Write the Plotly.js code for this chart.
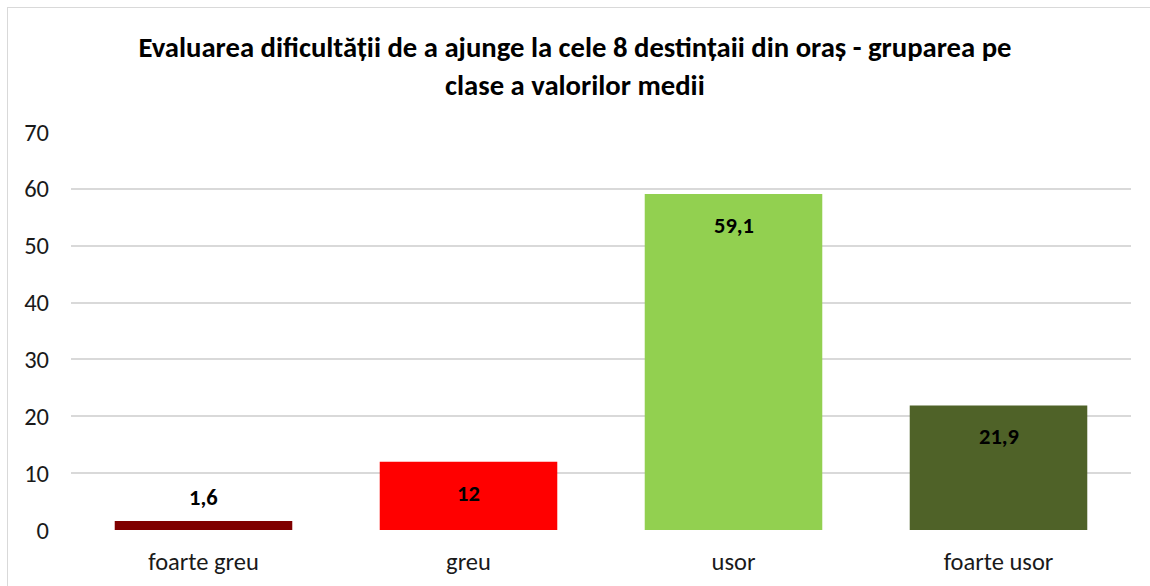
<!DOCTYPE html>
<html>
<head>
<meta charset="utf-8">
<script src="https://cdn.plot.ly/plotly-3.0.1.min.js"></script>
<style>
  html, body { margin: 0; padding: 0; background: #fff; overflow: hidden; }
  #chart { width: 1150px; height: 586px; position: absolute; left: 0; top: 0; }
  #frame { position: absolute; left: 7px; top: 7px; width: 1200px; height: 700px;
           border-left: 1px solid #d9d9d9; border-top: 1px solid #d9d9d9; pointer-events: none; }
</style>
</head>
<body>
<div id="chart"></div>
<div id="frame"></div>
<script>
const titleLine1 = "Evaluarea dificultății de a ajunge la cele 8 destințaii din oraș - gruparea pe";
const titleLine2 = "clase a valorilor medii";
const categories = ["foarte greu", "greu", "usor", "foarte usor"];
const values = [1.6, 12, 59.1, 21.9];
const barColors = ["#7f0000", "#ff0000", "#92d050", "#4f6228"];
const yTicks = [0, 10, 20, 30, 40, 50, 60, 70];

const FONT = "Carlito, Lato, 'Open Sans', sans-serif";

const fmt = v => String(v).replace(".", ",");

const annotations = values.map((v, i) => {
  const inside = v > 5;
  return {
    x: categories[i], y: v, xref: "x", yref: "y",
    text: "<b>" + fmt(v) + "</b>",
    showarrow: false,
    yanchor: inside ? "top" : "bottom",
    yshift: inside ? -16 : 8,
    font: { family: FONT, size: 22.5, color: "#000" }
  };
});
annotations.push({
  xref: "paper", yref: "paper", x: (575 - 71) / 1060, y: (530 - 85) / 398,
  xanchor: "center", yanchor: "middle", showarrow: false,
  text: "<b>" + titleLine2 + "</b>",
  font: { family: FONT, size: 28.7, color: "#000" }
});

const trace = {
  type: "bar",
  x: categories,
  y: values,
  marker: { color: barColors },
  hoverinfo: "x+y"
};

const layout = {
  width: 1150, height: 586,
  margin: { l: 71, r: 19, t: 132, b: 56 },
  paper_bgcolor: "rgba(0,0,0,0)",
  plot_bgcolor: "#fff",
  bargap: 0.33,
  showlegend: false,
  title: {
    text: "<b>" + titleLine1 + "</b>",
    xref: "container", yref: "container",
    x: 0.5, xanchor: "center", y: 1 - 47 / 586, yanchor: "middle",
    font: { family: FONT, size: 28.7, color: "#000" }
  },
  xaxis: {
    type: "category",
    showgrid: false, zeroline: false, showline: false,
    ticks: "", ticklabelstandoff: 14,
    tickfont: { family: FONT, size: 24.5, color: "#1a1a1a" }
  },
  yaxis: {
    range: [0, 70],
    tickvals: yTicks,
    showgrid: true, gridcolor: "#d9d9d9", gridwidth: 1.5,
    zeroline: false, showline: false,
    ticks: "", ticklabelstandoff: 21,
    tickfont: { family: FONT, size: 24.5, color: "#1a1a1a" }
  },
  annotations: annotations
};

Plotly.newPlot("chart", [trace], layout, { displayModeBar: false, staticPlot: false });
</script>
</body>
</html>
